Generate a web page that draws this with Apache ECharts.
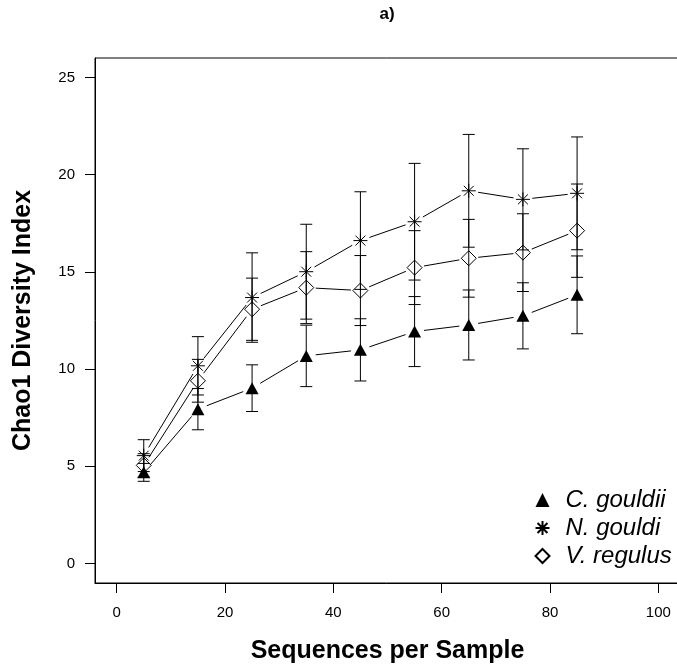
<!DOCTYPE html>
<html><head><meta charset="utf-8">
<script src="https://cdn.jsdelivr.net/npm/echarts@6/dist/echarts.min.js"></script>
<style>html,body{margin:0;padding:0;background:#fff}#c{width:677px;height:670px}</style>
</head><body><div id="c"></div>
<script>
// ---- data ----
const seqPerSample = [5, 15, 25, 35, 45, 55, 65, 75, 85];
const seriesNames = ['C. gouldii', 'N. gouldi', 'V. regulus'];
const cGouldiiMean = [4.69, 7.94, 9.02, 10.68, 10.99, 11.93, 12.27, 12.74, 13.82];
const cGouldiiErr  = [0.46, 1.06, 1.20, 1.58, 1.60, 1.80, 1.80, 1.70, 2.00];
const nGouldiMean  = [5.55, 10.17, 13.68, 15.01, 16.61, 17.58, 19.17, 18.73, 19.04];
const nGouldiErr   = [0.82, 1.50, 2.30, 2.44, 2.51, 3.00, 2.90, 2.60, 2.90];
const vRegulusMean = [5.05, 9.40, 13.08, 14.19, 14.04, 15.22, 15.70, 15.99, 17.12];
const vRegulusErr  = [0.60, 1.10, 1.60, 1.85, 1.80, 1.90, 2.00, 2.00, 2.40];
const xTicks = [0, 20, 40, 60, 80, 100];
const yTicks = [0, 5, 10, 15, 20, 25];
const titleText = 'a)';
const xName = 'Sequences per Sample';
const yName = 'Chao1 Diversity Index';

const FONT = "'Liberation Sans', Arial, Helvetica, sans-serif";
const means = [cGouldiiMean, nGouldiMean, vRegulusMean];
const errs = [cGouldiiErr, nGouldiErr, vRegulusErr];
const starPath = 'path://M10,0L10,20M0,10L20,10M2.93,2.93L17.07,17.07M2.93,17.07L17.07,2.93';
const symbols = [
  { symbol: 'triangle', size: [13, 12], style: { color: '#000', borderWidth: 0 } },
  { symbol: starPath, size: 14, style: { color: 'none', borderColor: '#000', borderWidth: 1 } },
  { symbol: 'diamond', size: 15, style: { color: 'none', borderColor: '#000', borderWidth: 1 } }
];

const series = [];
const GAP = 9.5;
means.forEach((m, s) => {
  // connecting line segments with gaps around the points (R type="b")
  const segs = [];
  for (let i = 0; i < m.length - 1; i++) segs.push([seqPerSample[i], m[i], seqPerSample[i + 1], m[i + 1]]);
  series.push({
    type: 'custom', name: 'line' + s, data: segs, silent: true, z: 1,
    encode: { x: [0, 2], y: [1, 3] },
    renderItem: function (params, api) {
      const a = api.coord([api.value(0), api.value(1)]);
      const b = api.coord([api.value(2), api.value(3)]);
      const dx = b[0] - a[0], dy = b[1] - a[1];
      const len = Math.sqrt(dx * dx + dy * dy);
      if (len <= 2 * GAP) return null;
      const ux = dx / len, uy = dy / len;
      return {
        type: 'line',
        shape: { x1: a[0] + ux * GAP, y1: a[1] + uy * GAP, x2: b[0] - ux * GAP, y2: b[1] - uy * GAP },
        style: { stroke: '#000', lineWidth: 1 }
      };
    }
  });
});
means.forEach((m, s) => {
  const e = errs[s];
  const bars = m.map((v, i) => [seqPerSample[i], v - e[i], v + e[i]]);
  series.push({
    type: 'custom', name: 'err' + s, data: bars, silent: true, z: 2,
    encode: { x: 0, y: [1, 2] },
    renderItem: function (params, api) {
      const lo = api.coord([api.value(0), api.value(1)]);
      const hi = api.coord([api.value(0), api.value(2)]);
      const w = 6;
      const st = { stroke: '#000', lineWidth: 1 };
      return {
        type: 'group',
        children: [
          { type: 'line', shape: { x1: lo[0], y1: lo[1], x2: hi[0], y2: hi[1] }, style: st },
          { type: 'line', shape: { x1: lo[0] - w, y1: lo[1], x2: lo[0] + w, y2: lo[1] }, style: st },
          { type: 'line', shape: { x1: hi[0] - w, y1: hi[1], x2: hi[0] + w, y2: hi[1] }, style: st }
        ]
      };
    }
  });
});
means.forEach((m, s) => {
  series.push({
    type: 'scatter', name: seriesNames[s], z: 3,
    data: m.map((v, i) => [seqPerSample[i], v]),
    symbol: symbols[s].symbol, symbolSize: symbols[s].size,
    itemStyle: Object.assign({ opacity: 1 }, symbols[s].style),
    emphasis: { disabled: true }
  });
});

const chart = echarts.init(document.getElementById('c'), null, { renderer: 'canvas' });
chart.setOption({
  animation: false,
  backgroundColor: '#fff',
  textStyle: { fontFamily: FONT },
  grid: {
    left: 95, top: 58, width: 585, height: 525, show: true, borderColor: '#000', borderWidth: 1,
    backgroundColor: 'transparent', containLabel: false, outerBoundsMode: 'none'
  },
  graphic: [{
    type: 'text', x: 387, y: 14,
    style: { text: titleText, align: 'center', verticalAlign: 'middle', font: 'bold 17px ' + FONT, fill: '#000' }
  }],
  xAxis: {
    type: 'value', min: -4, max: 104,
    name: xName, nameLocation: 'middle', nameGap: 56,
    nameTextStyle: { fontSize: 25, fontWeight: 'bold', color: '#000', fontFamily: FONT },
    axisLine: { show: true, onZero: false, lineStyle: { color: '#000', width: 1 } },
    axisTick: { show: true, length: 10, customValues: xTicks, lineStyle: { color: '#000' } },
    axisLabel: { customValues: xTicks, margin: 22, fontSize: 15, color: '#000', fontFamily: FONT },
    splitLine: { show: false }
  },
  yAxis: {
    type: 'value', min: -1, max: 26,
    name: yName, nameLocation: 'middle', nameGap: 59,
    nameTextStyle: { fontSize: 25, fontWeight: 'bold', color: '#000', fontFamily: FONT },
    axisLine: { show: true, onZero: false, lineStyle: { color: '#000', width: 1 } },
    axisTick: { show: true, length: 10, customValues: yTicks, lineStyle: { color: '#000' } },
    axisLabel: { customValues: yTicks, margin: 20, fontSize: 15, color: '#000', fontFamily: FONT },
    splitLine: { show: false }
  },
  legend: {
    data: seriesNames, orient: 'vertical', left: 533, top: 486, padding: 0,
    itemWidth: 14, itemHeight: 14, itemGap: 0, selectedMode: false,
    textStyle: { fontSize: 24, fontStyle: 'italic', color: '#000', fontFamily: FONT, lineHeight: 28, padding: [0, 0, 0, 11] }
  },
  series: series
});
</script>
</body></html>
